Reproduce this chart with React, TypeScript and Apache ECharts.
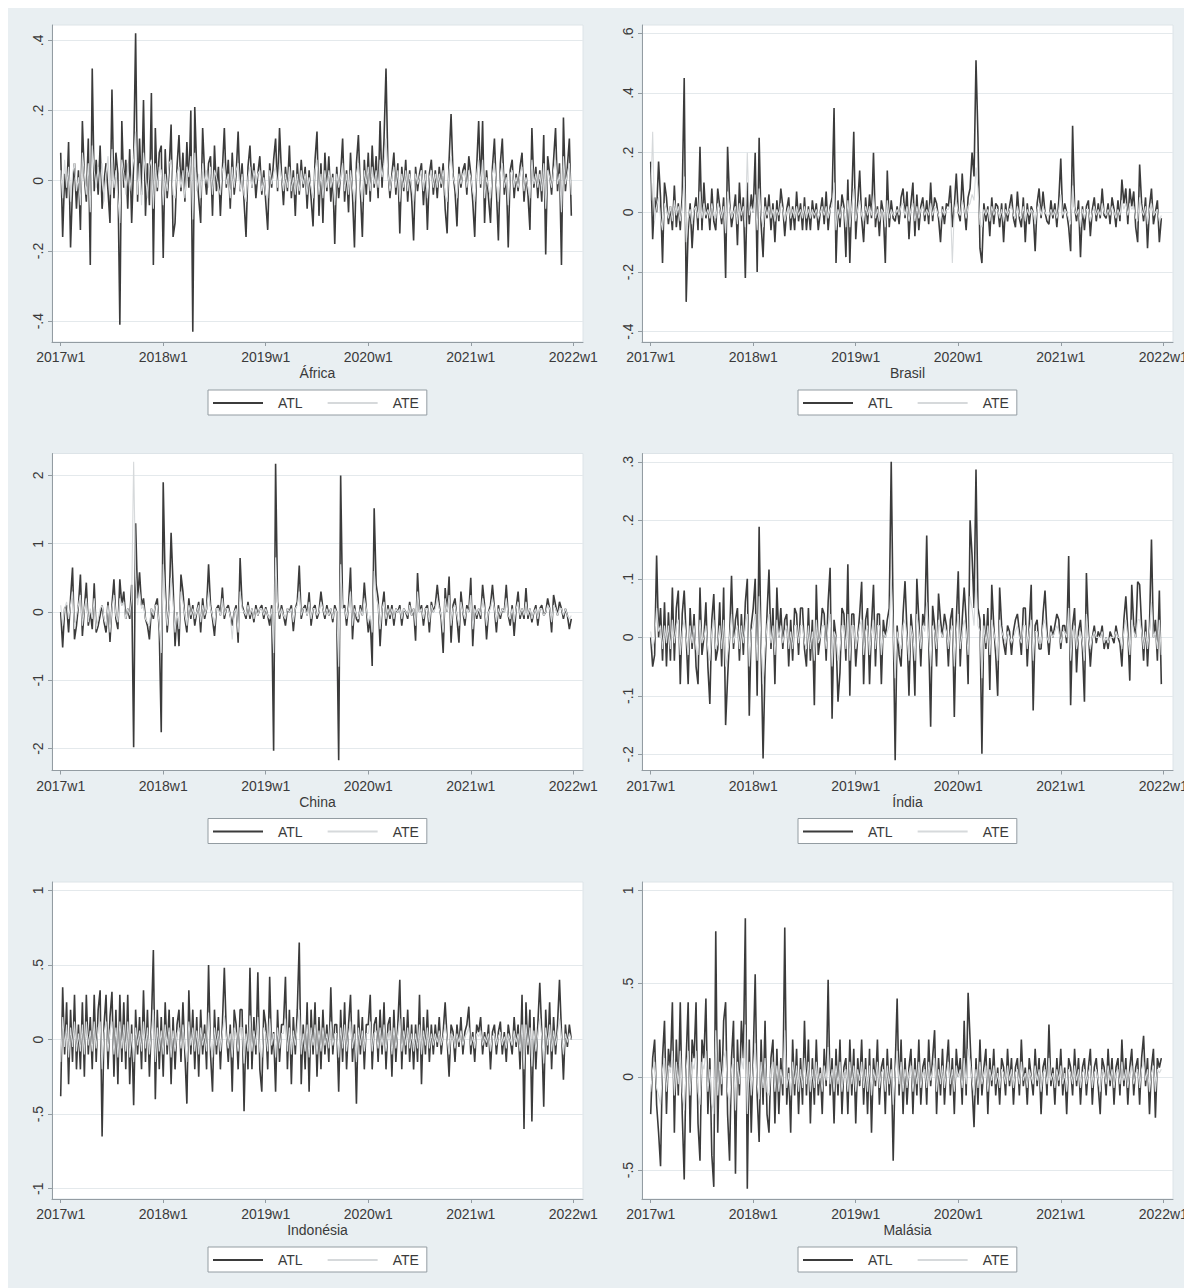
import React, { useEffect, useRef } from 'react';
import * as echarts from 'echarts';

// Weekly index: 0 = 2017w1, 52 weeks per year
const WEEK_TICKS = [0, 52, 104, 156, 208, 260];
const WEEK_LABELS = ['2017w1', '2018w1', '2019w1', '2020w1', '2021w1', '2022w1'];

const COUNTRIES = ['África', 'Brasil', 'China', 'Índia', 'Indonésia', 'Malásia'];

const TICKS_AFRICA = [-0.4, -0.2, 0, 0.2, 0.4];
const TICKS_BRASIL = [-0.4, -0.2, 0, 0.2, 0.4, 0.6];
const TICKS_CHINA = [-2, -1, 0, 1, 2];
const TICKS_INDIA = [-0.2, -0.1, 0, 0.1, 0.2, 0.3];
const TICKS_INDONESIA = [-1, -0.5, 0, 0.5, 1];
const TICKS_MALASIA = [-0.5, 0, 0.5, 1];

const ATL_AFRICA = [
  .08,-.16,.02,-.05,.11,-.19,-.02,.05,-.08,.03,-.14,.17,.01,-.06,.12,-.24,.32,-.03,.06,-.04,
  .1,-.08,0,.05,-.03,-.12,.26,-.05,.08,.02,-.41,.17,-.02,.06,-.08,.09,-.12,.05,.42,-.06,
  .12,-.04,.23,-.1,.05,-.07,.25,-.24,.15,-.03,.08,.1,-.22,.09,-.05,.03,.16,-.16,-.12,.04,
  .13,-.03,.08,-.06,.11,-.02,.2,-.43,.21,.03,-.05,-.12,.15,.02,-.04,.05,.07,-.1,.1,-.03,
  .04,-.1,.03,.15,-.02,.06,-.08,.08,-.04,.02,.14,-.03,.05,-.06,-.16,.04,.1,-.02,.05,-.05,
  .02,.07,-.04,.03,-.06,-.14,.05,-.02,.06,.12,-.03,.15,.02,-.07,.04,-.03,.1,-.05,.03,-.1,
  .05,-.04,.06,-.02,.04,-.08,.03,-.05,-.13,.06,.14,-.1,.05,-.12,.08,-.03,.07,-.06,.02,-.18,
  .04,-.05,.02,.12,-.06,.03,-.09,.08,-.04,-.19,.05,.13,-.03,-.16,.06,-.04,.08,-.06,.1,-.02,
  .07,-.05,.17,-.02,.12,.32,.03,-.05,.02,.08,-.04,.05,-.15,.04,-.03,.06,-.06,.03,-.05,-.17,
  .04,-.03,.02,.05,-.07,.03,-.14,.02,.06,-.04,.03,-.05,.04,-.02,.05,-.08,-.15,.06,.19,.02,
  -.03,-.13,.04,-.02,.03,.05,-.04,.07,.02,-.06,-.16,.04,.17,-.02,.17,-.12,.03,-.05,-.12,.04,
  .12,-.03,-.17,.05,.12,-.04,.02,-.19,.03,.06,-.05,.02,-.03,.04,.08,-.06,.02,-.04,-.14,.15,
  -.02,.04,-.05,.03,-.06,.13,-.21,.07,.02,-.04,.06,.15,-.03,.05,-.24,.18,-.03,.04,.12,-.1,
];
const ATE_AFRICA = [
  .03,-.05,.06,-.02,.04,-.06,.02,.05,-.03,.01,-.07,.08,.02,-.04,.05,-.09,.1,.03,-.02,.04,
  -.03,.05,-.06,.02,.07,-.04,.09,-.02,.03,-.05,-.12,.06,.02,-.04,.05,-.03,.02,.06,.14,-.04,
  .05,-.07,.08,.02,-.05,.04,.06,-.08,.05,-.02,.04,.03,-.07,.02,-.03,.05,.06,-.04,-.05,.02,
  .04,-.02,.03,-.05,.04,.01,.07,-.11,.08,-.03,.02,-.05,.05,-.01,.03,-.02,.04,-.04,.03,.01,
  -.02,-.04,.03,.05,-.01,.02,-.05,.04,-.02,.03,.05,-.03,.02,-.04,-.06,.01,.04,-.02,.03,-.01,
  .02,.03,-.03,.01,-.04,-.05,.03,-.01,.02,.04,-.02,.05,.01,-.03,.02,-.02,.04,-.03,.01,-.04,
  .02,-.03,.03,-.01,.02,-.04,.01,-.02,-.05,.03,.06,-.04,.02,-.05,.03,-.02,.03,-.02,.01,-.07,
  .02,-.02,.01,.05,-.03,.02,-.04,.03,-.02,-.06,.02,.05,-.02,-.06,.03,-.01,.04,-.03,.04,-.01,
  .03,-.02,.06,.01,.05,.12,.02,-.03,.01,.04,-.02,.03,-.06,.02,-.02,.03,-.03,.02,-.02,-.06,
  .02,-.01,.01,.03,-.03,.02,-.05,.01,.03,-.02,.02,-.02,.02,-.01,.03,-.04,-.06,.03,.07,.01,
  -.01,-.05,.02,-.01,.02,.03,-.02,.03,.01,-.03,-.06,.02,.06,-.01,.06,-.05,.01,-.02,-.05,.02,
  .05,-.01,-.06,.02,.05,-.02,.01,-.07,.02,.03,-.02,.01,-.02,.02,.04,-.03,.01,-.02,-.05,.06,
  -.01,.02,-.02,.02,-.03,.05,-.08,.03,.01,-.02,.03,.06,-.01,.02,-.09,.07,-.01,.02,.05,-.04,
];

const ATL_BRASIL = [
  .17,-.09,.05,0,.17,.05,-.17,.1,.05,-.04,.02,-.06,.09,-.05,.03,-.06,.06,.45,-.3,-.06,
  .03,-.12,0,.05,-.06,.22,-.06,.1,-.02,.03,-.06,.08,-.03,-.06,.08,.02,-.04,.05,-.22,.22,
  .04,-.05,0,.06,-.11,.1,-.03,.05,-.22,.1,-.04,.06,0,.2,-.2,.25,-.04,-.15,.05,-.02,
  .06,-.06,.03,-.1,.04,-.03,.08,.02,-.08,.01,.05,-.06,.02,-.06,.07,-.03,.03,-.06,.05,-.06,
  .02,-.06,.04,-.02,.03,-.06,0,.05,-.04,.07,-.06,.02,.05,.35,-.17,.04,-.05,.06,.02,-.15,
  .11,-.17,.05,.27,-.09,.03,.14,-.02,-.1,.05,-.04,.06,-.02,.2,-.05,.02,-.08,.04,0,-.17,
  .14,-.05,.04,-.02,-.03,.02,-.04,.05,.08,-.02,.07,-.09,.03,.1,-.08,.06,-.06,.02,.05,-.03,
  .04,-.04,.1,-.03,.05,.03,-.02,-.1,.02,-.04,.03,.02,.09,-.05,.02,.13,0,-.03,.13,.02,
  -.06,.05,.08,.2,.12,.51,.25,-.12,-.17,.03,-.03,.02,-.08,.05,-.04,.03,.02,-.05,.03,-.1,
  .03,-.03,.02,.06,-.02,-.05,.07,-.02,-.05,.05,-.1,.03,-.04,.02,0,-.13,.03,.08,-.02,.07,
  0,-.03,-.04,.04,-.02,.03,-.05,.04,.18,-.02,.03,0,-.05,-.13,.29,.02,-.03,.04,-.15,.02,
  -.06,.02,.04,-.08,.01,.05,-.03,.03,-.02,.08,-.01,-.02,.03,-.04,.05,.01,-.05,.04,-.03,.11,
  .03,.08,-.04,.08,.02,.07,-.05,-.1,.16,.03,-.03,.05,-.12,.02,.08,-.04,0,.04,-.1,-.02,
];
const ATE_BRASIL = [
  .04,.27,-.03,.02,.05,-.02,-.06,.03,.01,-.02,.02,-.03,.04,-.01,.02,-.03,.02,.12,-.1,-.02,
  .01,-.04,.01,.02,-.02,.07,-.02,.03,-.01,.01,-.02,.03,-.01,-.02,.03,.01,-.02,.02,-.07,.07,
  .02,-.02,0,.02,-.04,.03,-.01,.02,-.05,.2,-.01,.02,0,.06,-.06,.08,-.01,-.05,.02,-.01,
  .02,-.02,.01,-.03,.01,-.01,.03,.01,-.03,0,.02,-.02,.01,-.02,.02,-.01,.01,-.02,.02,-.02,
  .01,-.02,.01,-.01,.01,-.02,0,.02,-.01,.02,-.02,.01,.02,.1,-.06,.01,-.02,.02,.01,-.05,
  .04,-.05,.02,.08,-.03,.01,.04,-.01,-.03,.02,-.01,.02,-.01,.06,-.02,.01,-.03,.01,0,-.05,
  .04,-.02,.01,-.01,-.01,.01,-.01,.02,.03,-.01,.02,-.03,.01,.03,-.03,.02,-.02,.01,.02,-.01,
  .01,-.01,.03,-.01,.02,.01,-.01,-.03,.01,-.01,.01,.01,.03,-.17,.01,.04,0,-.01,.04,.01,
  -.02,.02,.03,.06,.04,.15,.08,-.04,-.05,.01,-.01,.01,-.03,.02,-.01,.01,.01,-.02,.01,-.03,
  .01,-.01,.01,.02,-.01,-.02,.02,-.01,-.02,.02,-.03,.01,-.01,.01,0,-.04,.01,.03,-.01,.02,
  0,-.01,-.01,.01,-.01,.01,-.02,.01,.06,-.01,.01,0,-.02,-.04,.09,.01,-.01,.01,-.05,.01,
  -.02,.01,.01,-.03,0,.02,-.01,.01,-.01,.03,0,-.01,.01,-.01,.02,0,-.02,.01,-.01,.04,
  .01,.03,-.01,.03,.01,.02,-.02,-.03,.05,.01,-.01,.02,-.04,.01,.03,-.01,0,.01,-.03,-.01,
];

const ATL_CHINA = [
  0,-.52,.05,.1,-.3,.2,.65,-.4,-.2,.1,.55,-.35,.05,.43,-.2,0,-.25,.42,-.3,-.2,
  -.05,.1,-.15,-.3,.15,-.44,.1,.48,-.1,-.25,.48,.1,.3,-.1,.05,-.1,.4,-1.98,1.3,.2,
  .58,.1,.2,-.1,-.2,-.4,.05,-.1,.1,.2,-.28,-1.76,1.9,.4,-.3,.1,1.16,.4,-.5,0,
  -.5,.55,.3,-.1,-.3,.2,-.1,.1,-.2,0,.15,-.3,.2,-.1,.05,.7,.1,-.1,-.35,.05,
  .1,-.05,.36,-.1,.05,.1,-.05,-.2,0,.1,-.45,.79,.1,0,-.1,.15,-.1,.05,-.15,.1,
  -.05,.05,.1,-.1,.07,-.05,-.2,.1,-2.03,2.17,.15,-.1,.1,-.05,-.2,.05,0,.1,-.28,.05,
  .15,.68,-.1,.05,.1,-.05,.29,-.2,.05,.1,-.1,0,.3,.05,-.1,.1,-.05,.05,-.15,.1,
  0,-2.17,2,.05,.1,-.2,.1,.65,-.4,.1,-.1,-.15,.1,-.05,.43,.05,-.3,-.1,-.79,1.52,
  .4,.2,-.5,.05,.3,-.2,.1,-.1,.1,-.2,.05,0,.1,-.2,.05,0,-.1,.15,-.05,.05,
  -.42,.57,0,.1,-.2,.05,.1,-.3,.15,0,.1,.4,.1,-.1,-.6,.35,0,.52,-.45,.1,
  .2,-.1,-.45,.3,0,-.2,.1,0,.5,-.5,.1,-.1,.05,-.1,.4,.1,-.4,0,.1,.4,
  .05,-.3,.1,-.1,.05,0,.4,-.05,-.2,.1,-.35,.05,.3,-.1,.05,-.1,.35,-.1,.05,-.15,
  0,.1,-.2,.05,.1,-.05,0,.2,.05,-.3,.25,.1,-.05,.15,.05,-.1,.05,-.05,-.25,-.1,
];
const ATE_CHINA = [
  .1,-.2,.05,.15,-.1,.1,.3,-.25,-.05,.1,.25,-.2,.05,.2,-.15,.05,-.1,.2,-.25,-.1,
  .05,.1,-.1,-.2,.1,-.3,.05,.25,-.05,-.15,.2,.1,.15,-.1,.05,-.05,.2,2.2,.5,.1,
  .3,.05,.1,-.1,-.15,-.2,.05,-.05,.1,.1,-.2,-.6,.7,.2,-.2,.05,.5,.15,-.3,0,
  -.25,.3,.15,-.05,-.2,.1,-.05,.05,-.1,0,.1,-.15,.1,-.05,.05,.3,.05,-.05,-.2,.05,
  .05,-.05,.2,-.05,.05,.05,-.05,-.4,0,.05,-.3,.3,.05,0,-.05,.1,-.05,.05,-.1,.05,
  -.05,.05,.05,-.05,.05,-.05,-.1,.05,-.6,.8,.1,-.05,.05,-.05,-.1,.05,0,.05,-.15,.05,
  .1,.3,-.05,.05,.05,-.05,.15,-.1,.05,.05,-.05,0,.15,.05,-.05,.05,-.05,.05,-.1,.05,
  0,-.8,.7,.05,.05,-.1,.05,.3,-.2,.05,-.05,-.1,.05,-.05,.2,.05,-.15,-.05,-.3,.6,
  .2,.1,-.25,.05,.15,-.1,.05,-.05,.05,-.1,.05,0,.05,-.1,.05,0,-.05,.1,-.05,.05,
  -.2,.3,0,.05,-.1,.05,.05,-.15,.1,0,.05,.2,.05,-.05,-.3,.2,0,.25,-.2,.05,
  .1,-.05,-.2,.15,0,-.1,.05,0,.25,-.25,.05,-.05,.05,-.05,.2,.05,-.2,0,.05,.2,
  .05,-.15,.05,-.05,.05,0,.2,-.05,-.1,.05,-.15,.05,.15,-.05,.05,-.05,.15,-.05,.05,-.1,
  0,.05,-.1,.05,.05,-.05,0,.1,.05,-.15,.1,.05,-.05,.05,.05,-.05,.05,-.05,-.1,-.05,
];

const ATL_INDIA = [
  0,-.05,-.03,.14,0,.05,-.04,.06,-.05,.043,-.04,.085,-.04,.05,.08,-.08,.04,.08,0,-.08,
  .05,-.02,.04,-.05,-.08,.085,-.03,0,.06,-.05,-.114,.03,.074,-.04,-.02,.06,-.05,.085,-.15,-.07,
  0,.105,-.02,.03,.05,-.04,.04,-.03,.06,.1,-.134,.02,.05,.1,-.1,.189,-.02,-.207,-.05,.04,
  .116,-.02,.05,-.08,.085,0,.05,-.02,.03,.04,-.05,.03,-.04,.05,.04,-.03,.05,.05,-.02,-.05,
  .05,-.04,.03,-.116,.09,-.03,0,.05,.04,-.04,.06,.119,-.139,.03,0,-.11,-.06,.05,.04,-.04,
  .125,-.1,.04,.04,-.05,0,.04,.095,-.08,.03,.05,-.08,.02,.09,-.05,.04,.04,-.08,.03,0,
  .03,.05,.3,.03,-.21,.02,-.03,-.05,.04,.096,.01,-.1,.04,0,-.1,.1,.03,-.05,.04,.02,
  .174,0,-.153,.054,.02,-.05,.075,.03,0,.04,.02,-.05,.03,.05,-.136,.03,.113,-.05,.03,.085,
  .03,-.08,.2,.14,.05,.287,.05,.03,-.199,.04,-.02,.05,-.09,.09,.02,-.03,-.1,.085,.02,-.01,
  -.03,.02,.01,-.03,.01,.03,.04,.01,-.03,.05,.05,-.05,.02,.09,-.125,.02,.03,-.02,-.02,.04,
  .08,.01,-.03,.02,0,.02,.04,.03,-.02,.02,.02,-.01,.139,-.116,.02,.05,-.06,.01,.03,-.02,
  -.11,.11,.01,-.05,0,.02,-.01,.01,0,.02,-.02,0,-.02,.01,0,-.01,.02,0,-.01,-.05,
  .03,.07,.01,-.074,.09,.02,0,.095,.09,.02,-.04,.03,-.05,.02,.167,0,.03,-.04,.08,-.08,
];
const ATE_INDIA = [
  .01,-.02,0,.05,.01,.02,-.02,.02,-.01,.02,-.02,.03,-.01,.02,.03,-.03,.01,.03,0,-.03,
  .02,-.01,.02,-.02,-.03,.03,-.01,0,.02,-.02,-.04,.01,.03,-.02,-.01,.02,-.02,.03,-.05,-.03,
  0,.04,-.01,.01,.02,-.02,.02,-.01,.02,.04,-.05,.01,.02,.04,-.04,.07,-.01,-.08,-.02,.02,
  .04,-.01,.02,-.03,.03,0,.02,-.01,.01,.02,-.02,.01,-.02,.02,.02,-.01,.02,.02,-.01,-.02,
  .02,-.02,.01,-.04,.03,-.01,0,.02,.02,-.02,.02,.04,-.05,.01,0,-.04,-.02,.02,.02,-.02,
  .04,-.04,.02,.02,-.02,0,.02,.03,-.03,.01,.02,-.03,.01,.03,-.02,.02,.02,-.03,.01,0,
  .01,.02,.1,.01,-.07,.01,-.01,-.02,.02,.03,0,-.04,.02,0,-.04,.04,.01,-.02,.02,.01,
  .06,0,-.05,.02,.01,-.02,.03,.01,0,.02,.01,-.02,.01,.02,-.05,.01,.04,-.02,.01,.03,
  .01,-.03,.07,.05,.02,.1,.02,.01,-.07,.02,-.01,.02,-.03,.03,.01,-.01,-.04,.03,.01,0,
  -.01,.01,0,-.01,0,.01,.02,0,-.01,.02,.02,-.02,.01,.03,-.04,.01,.01,-.01,-.01,.02,
  .03,0,-.01,.01,0,.01,.02,.01,-.01,.01,.01,0,.05,-.04,.01,.02,-.02,0,.01,-.01,
  -.04,.04,0,-.02,0,.01,0,0,0,.01,-.01,0,-.01,0,0,0,.01,0,0,-.02,
  .01,.03,0,-.03,.03,.01,0,.03,.03,.01,-.02,.01,-.02,.01,.06,0,.01,-.02,.03,-.03,
];

const ATL_INDONESIA = [
  -.38,.35,-.1,.25,-.3,.2,-.15,.3,-.2,.1,-.2,.25,-.25,.3,-.1,.15,-.2,.3,-.15,.2,
  .33,-.65,.1,.3,-.2,.15,.32,-.25,.2,-.3,.3,-.15,.25,-.2,.3,-.3,.1,-.44,.2,-.1,
  .15,-.2,.33,-.15,.2,-.25,.1,.6,-.4,.2,-.2,.15,-.25,.25,-.1,.2,-.3,.15,-.2,.1,
  .2,-.15,.25,-.1,-.43,.33,-.1,.2,-.2,.15,-.25,.2,-.1,.1,-.2,.5,-.1,-.35,.2,-.1,
  .15,-.2,.1,.48,.05,-.15,.1,-.35,.2,.1,-.2,.2,.2,-.48,.1,-.2,.48,-.2,.15,-.1,
  .45,-.2,-.35,.2,.1,-.2,.42,-.1,.05,-.35,.2,-.15,.1,.1,.42,-.2,.2,-.3,.15,-.1,
  .2,.65,-.3,.1,-.2,.25,-.35,.2,-.1,.25,-.25,.15,-.2,.2,-.1,.1,-.15,.35,-.1,.1,
  .1,-.35,.2,-.15,.25,-.2,.1,.3,-.15,.1,-.43,.2,-.1,.15,-.2,.1,.1,.3,-.2,.1,
  .15,-.15,.2,-.1,.25,-.2,.1,.15,-.25,.2,-.15,.1,.4,-.2,.15,-.1,.2,-.15,.1,-.2,
  .1,-.15,.3,-.3,.15,-.1,.2,-.15,.1,-.1,.1,-.05,.15,-.1,.05,.25,0,-.25,.1,.05,
  -.15,.1,-.05,.15,-.1,.05,.1,.22,-.1,.05,-.15,.1,.05,.15,-.1,.05,-.05,.1,-.2,.05,
  .1,-.1,.05,.12,-.1,.05,-.15,.1,0,-.1,.15,-.05,.1,-.2,.3,-.6,.25,-.1,.2,-.55,
  .15,-.2,.1,.38,.05,-.45,.2,-.1,.25,-.2,.15,-.1,.1,.4,.05,-.27,.1,-.05,.1,0,
];
const ATE_INDONESIA = [
  -.15,.15,-.05,.1,-.12,.08,-.05,.12,-.08,.04,-.08,.1,-.1,.12,-.04,.06,-.08,.12,-.06,.08,
  .12,-.2,.04,.12,-.08,.06,.12,-.1,.08,-.12,.12,-.06,.1,-.08,.12,-.12,.04,-.15,.08,-.04,
  .06,-.08,.12,-.06,.08,-.1,.04,.2,-.15,.08,-.08,.06,-.1,.1,-.04,.08,-.12,.06,-.08,.04,
  .08,-.06,.1,-.04,-.15,.12,-.04,.08,-.08,.06,-.1,.08,-.04,.04,-.08,.18,-.04,-.12,.08,-.04,
  .06,-.08,.04,.16,.02,-.06,.04,-.12,.08,.04,-.08,.08,.08,-.16,.04,-.08,.16,-.08,.06,-.04,
  .15,-.08,-.12,.08,.04,-.08,.14,-.04,.04,-.12,.08,-.06,.04,.04,.14,-.08,.08,-.1,.06,-.04,
  .08,.2,-.1,.04,-.08,.1,-.12,.08,-.04,.1,-.1,.06,-.08,.08,-.04,.04,-.06,.12,-.04,.04,
  .04,-.12,.08,-.06,.1,-.08,.04,.12,-.06,.04,-.15,.08,-.04,.06,-.08,.04,.04,.12,-.08,.04,
  .06,-.06,.08,-.04,.1,-.08,.04,.06,-.1,.08,-.06,.04,.14,-.08,.06,-.04,.08,-.06,.04,-.08,
  .04,-.06,.1,-.1,.06,-.04,.08,-.06,.04,-.04,.04,-.02,.06,-.04,.02,.1,0,-.1,.04,.02,
  -.06,.04,-.02,.06,-.04,.02,.04,.08,-.04,.02,-.06,.04,.02,.06,-.04,.02,-.02,.04,-.08,.02,
  .04,-.04,.02,.05,-.04,.02,-.06,.04,0,-.04,.06,-.02,.04,-.08,.1,-.2,.1,-.04,.08,-.18,
  .06,-.08,.04,.14,.02,-.16,.08,-.04,.1,-.08,.06,-.04,.04,.14,.02,-.1,.04,-.02,.04,0,
];

const ATL_MALASIA = [
  -.2,.1,.2,-.15,-.3,-.48,.1,.3,-.2,.15,.05,.4,-.3,.2,-.1,.4,-.2,-.55,.1,.4,
  -.3,.2,.1,.4,-.25,-.45,.2,.1,.42,-.2,.1,-.42,-.59,.78,-.3,.2,-.1,.3,.4,-.2,
  -.45,.1,.3,-.52,.2,-.1,.3,.1,.85,-.6,.2,-.3,.1,.55,-.1,-.35,.2,-.15,.3,-.2,
  -.3,.1,.2,-.25,.15,-.2,.1,-.1,.8,-.15,.05,-.3,.2,-.1,.15,-.2,.1,-.15,.3,-.1,
  .2,-.25,.1,-.15,.2,-.1,.05,-.2,.15,-.05,.52,-.1,.1,-.25,.15,-.1,.2,-.2,.05,.1,
  -.2,.2,-.1,.15,-.25,.1,-.05,.2,-.15,.1,-.2,.15,-.3,.1,-.05,.2,-.15,.05,.1,-.2,
  .15,-.1,.1,-.45,.05,.42,-.1,.2,-.2,.1,-.15,.05,.15,-.2,.1,-.1,.2,-.15,.05,.1,
  -.15,.2,-.05,.1,.25,-.2,.1,-.1,.15,-.15,.05,.2,-.1,.1,-.2,.15,0,.1,-.15,.3,
  -.1,.45,.2,-.05,-.27,.1,-.15,.2,-.1,.05,.15,-.2,.1,-.05,.15,-.1,.05,-.15,.1,.05,
  -.1,.15,-.05,.1,-.15,.05,.1,-.1,.2,-.05,.05,-.15,.1,0,-.1,.15,-.05,.1,-.2,.05,
  .1,-.1,.28,-.05,.05,-.15,.1,-.05,.15,-.1,.05,-.2,.1,.05,-.1,.15,-.05,.1,-.15,.05,
  .1,-.1,.05,.15,-.15,.05,.1,-.05,-.2,.1,.05,-.1,.15,-.05,.1,-.15,.05,.1,-.1,.2,
  -.05,.1,-.15,.05,.15,-.1,.05,.1,-.15,.1,.22,-.05,.1,-.2,.05,.15,-.22,.1,.05,.1,
];
const ATE_MALASIA = [
  -.08,.04,.08,-.06,-.1,-.15,.04,.1,-.08,.06,.02,.14,-.1,.08,-.04,.14,-.08,-.18,.04,.14,
  -.1,.08,.04,.14,-.08,-.15,.08,.04,.14,-.08,.04,-.14,-.2,.25,-.1,.08,-.04,.1,.14,-.08,
  -.15,.04,.1,-.18,.08,-.04,.1,.04,.28,-.2,.08,-.1,.04,.18,-.04,-.12,.08,-.06,.1,-.08,
  -.1,.04,.08,-.08,.06,-.08,.04,-.04,.25,-.06,.02,-.1,.08,-.04,.06,-.08,.04,-.06,.1,-.04,
  .08,-.08,.04,-.06,.08,-.04,.02,-.08,.06,-.02,.16,-.04,.04,-.08,.06,-.04,.08,-.08,.02,.04,
  -.08,.08,-.04,.06,-.08,.04,-.02,.08,-.06,.04,-.08,.06,-.1,.04,-.02,.08,-.06,.02,.04,-.08,
  .06,-.04,.04,-.15,.02,.14,-.04,.08,-.08,.04,-.06,.02,.06,-.08,.04,-.04,.08,-.06,.02,.04,
  -.06,.08,-.02,.04,.1,-.08,.04,-.04,.06,-.06,.02,.08,-.04,.04,-.08,.06,0,.04,-.06,.1,
  -.04,.15,.08,-.02,-.1,.04,-.06,.08,-.04,.02,.06,-.08,.04,-.02,.06,-.04,.02,-.06,.04,.02,
  -.04,.06,-.02,.04,-.06,.02,.04,-.04,.08,-.02,.02,-.06,.04,0,-.04,.06,-.02,.04,-.08,.02,
  .04,-.04,.1,-.02,.02,-.06,.04,-.02,.06,-.04,.02,-.08,.04,.02,-.04,.06,-.02,.04,-.06,.02,
  .04,-.04,.02,.06,-.06,.02,.04,-.02,-.08,.04,.02,-.04,.06,-.02,.04,-.06,.02,.04,-.04,.08,
  -.02,.04,-.06,.02,.06,-.04,.02,.04,-.06,.04,.08,-.02,.04,-.08,.02,.06,-.08,.04,.02,.04,
];

const PANEL_DATA = [
  { ticks: TICKS_AFRICA, atl: ATL_AFRICA, ate: ATE_AFRICA },
  { ticks: TICKS_BRASIL, atl: ATL_BRASIL, ate: ATE_BRASIL },
  { ticks: TICKS_CHINA, atl: ATL_CHINA, ate: ATE_CHINA },
  { ticks: TICKS_INDIA, atl: ATL_INDIA, ate: ATE_INDIA },
  { ticks: TICKS_INDONESIA, atl: ATL_INDONESIA, ate: ATE_INDONESIA },
  { ticks: TICKS_MALASIA, atl: ATL_MALASIA, ate: ATE_MALASIA },
];

// Layout of the 3x2 combined graph (pixels inside the chart div)
const COL_STEP = 590;
const ROW_STEP = 428.5;
const PLOT_LEFT = 44;
const PLOT_TOP = 17;
const PLOT_W = 531;
const PLOT_H = 317;
// inner margins of each plot region around the data/tick extent
const PAD_L = 8.7, PAD_R = 9.7, PAD_T = 8.3, PAD_B = 10.3;

const FONT = '"Liberation Sans", Arial, Helvetica, sans-serif';
const TEXT = '#3a3a3a';
const AXIS = '#939ca2';
const GRIDLINE = '#e4e9ec';
const BG = '#e9eff2';
const ATL_COLOR = '#3b3b3b';
const ATE_COLOR = '#d6d9db';

const fmtY = (v: number) => {
  if (Math.abs(v) < 1e-9) return '0';
  return String(Number(v.toFixed(3))).replace(/^(-?)0\./, '$1.');
};
const fmtX = (v: number) => {
  const k = WEEK_TICKS.indexOf(Math.round(v));
  return k >= 0 ? WEEK_LABELS[k] : '';
};

function xRange(): [number, number] {
  const lo = WEEK_TICKS[0];
  const hi = WEEK_TICKS[WEEK_TICKS.length - 1];
  const per = (hi - lo) / (PLOT_W - PAD_L - PAD_R);
  return [lo - PAD_L * per, hi + PAD_R * per];
}

function yRange(ticks: number[], a: number[], b: number[]): [number, number] {
  const lo = Math.min(ticks[0], ...a, ...b);
  const hi = Math.max(ticks[ticks.length - 1], ...a, ...b);
  const per = (hi - lo) / (PLOT_H - PAD_T - PAD_B);
  return [lo - PAD_B * per, hi + PAD_T * per];
}

function buildOption() {
  const [xMin, xMax] = xRange();
  const grid: any[] = [];
  const xAxis: any[] = [];
  const yAxis: any[] = [];
  const series: any[] = [];
  const legend: any[] = [];

  PANEL_DATA.forEach((p, i) => {
    const c = i % 2;
    const r = Math.floor(i / 2);
    const [yMin, yMax] = yRange(p.ticks, p.atl, p.ate);

    grid.push({
      left: PLOT_LEFT + COL_STEP * c,
      top: PLOT_TOP + ROW_STEP * r,
      width: PLOT_W,
      height: PLOT_H,
      show: true,
      backgroundColor: '#ffffff',
      borderColor: '#dde4e8',
      borderWidth: 1,
    });

    xAxis.push({
      type: 'value',
      gridIndex: i,
      min: xMin,
      max: xMax,
      name: COUNTRIES[i],
      nameLocation: 'middle',
      nameGap: 24,
      nameTextStyle: { fontFamily: FONT, fontSize: 14, color: TEXT },
      axisLine: { show: true, onZero: false, lineStyle: { color: AXIS, width: 1 } },
      axisTick: { show: true, length: 4, customValues: WEEK_TICKS, lineStyle: { color: AXIS } },
      axisLabel: {
        customValues: WEEK_TICKS,
        formatter: fmtX,
        margin: 8,
        fontFamily: FONT,
        fontSize: 14,
        color: TEXT,
      },
      splitLine: { show: false },
    });

    yAxis.push({
      type: 'value',
      gridIndex: i,
      min: yMin,
      max: yMax,
      axisLine: { show: true, onZero: false, lineStyle: { color: AXIS, width: 1 } },
      axisTick: { show: true, length: 4, customValues: p.ticks, lineStyle: { color: AXIS } },
      axisLabel: {
        customValues: p.ticks,
        formatter: fmtY,
        rotate: 90,
        margin: 7,
        fontFamily: FONT,
        fontSize: 14,
        color: TEXT,
      },
      splitLine: { show: true, lineStyle: { color: GRIDLINE, width: 1 } },
    });

    series.push({
      type: 'line',
      name: 'ATL',
      xAxisIndex: i,
      yAxisIndex: i,
      data: p.atl.map((v, k) => [k, v]),
      symbol: 'none',
      showSymbol: false,
      lineStyle: { color: ATL_COLOR, width: 1.6 },
      itemStyle: { color: ATL_COLOR },
      z: 2,
    });
    series.push({
      type: 'line',
      name: 'ATE',
      xAxisIndex: i,
      yAxisIndex: i,
      data: p.ate.map((v, k) => [k, v]),
      symbol: 'none',
      showSymbol: false,
      lineStyle: { color: ATE_COLOR, width: 1.1 },
      itemStyle: { color: ATE_COLOR },
      z: 3,
    });

    legend.push({
      show: true,
      left: 200 + COL_STEP * c,
      top: 382 + ROW_STEP * r,
      orient: 'horizontal',
      data: ['ATL', 'ATE'],
      selectedMode: false,
      icon: 'rect',
      itemWidth: 50,
      itemHeight: 2,
      itemGap: 25,
      backgroundColor: '#ffffff',
      borderColor: AXIS,
      borderWidth: 1,
      borderRadius: 0,
      padding: [6, 8, 5, 5],
      textStyle: { fontFamily: FONT, fontSize: 14, color: TEXT, padding: [0, 0, 0, 10] },
    });
  });

  return {
    animation: false,
    backgroundColor: BG,
    grid,
    xAxis,
    yAxis,
    series,
    legend,
  };
}

export default function App() {
  const ref = useRef<HTMLDivElement | null>(null);

  useEffect(() => {
    document.documentElement.style.overflow = 'hidden';
    document.body.style.overflow = 'hidden';
    if (!ref.current) return;
    const chart = echarts.init(ref.current, null, { renderer: 'svg' });
    chart.setOption(buildOption() as any);
    return () => chart.dispose();
  }, []);

  return <div ref={ref} style={{ width: 1184, height: 1280 }} />;
}
